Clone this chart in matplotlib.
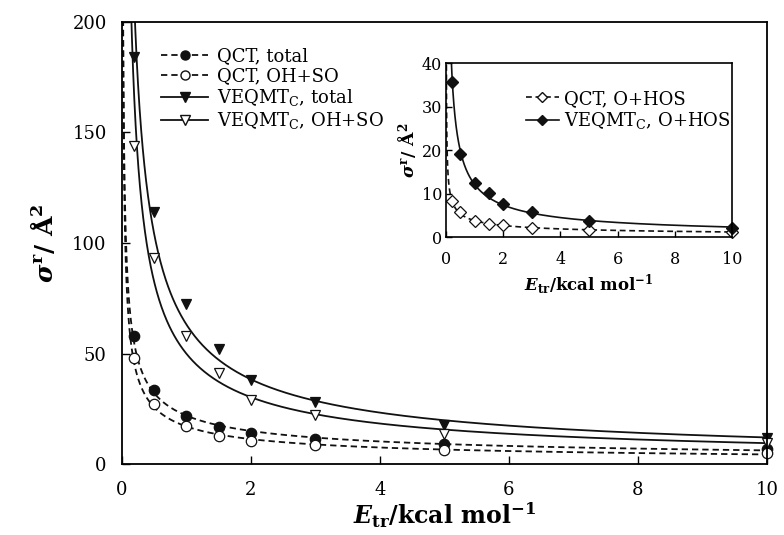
import matplotlib
matplotlib.use("Agg")
import matplotlib.pyplot as plt
from matplotlib.lines import Line2D
import numpy as np

plt.rcParams["font.family"] = "DejaVu Serif"
plt.rcParams["mathtext.fontset"] = "custom"
plt.rcParams["mathtext.rm"] = "DejaVu Serif"
plt.rcParams["mathtext.it"] = "DejaVu Serif:italic:bold"
plt.rcParams["mathtext.bf"] = "DejaVu Serif:bold"

# datos
E = [0.18, 0.5, 1.0, 1.5, 2.0, 3.0, 5.0, 10.0]
qct_total = [58, 33.5, 21.9, 16.9, 13.9, 11.2, 9.0, 6.8]
qct_ohso = [48, 27, 17.2, 12.8, 10.4, 8.6, 6.3, 4.8]
veq_total = [184, 114, 72.4, 52, 38, 28, 17.6, 11.8]
veq_ohso = [144, 93.4, 58, 41, 29, 22, 13.6, 9.5]

E_in = [0.2, 0.5, 1.0, 1.5, 2.0, 3.0, 5.0, 10.0]
qct_ohos = [8.3, 5.9, 3.75, 3.05, 2.8, 2.05, 1.7, 1.3]
veq_ohos = [35.8, 19.1, 12.6, 10.1, 7.6, 5.75, 3.75, 2.2]


def ajuste(x, y, xf):
    # ajuste potencial a*E^-n en escala log-log
    p = np.polyfit(np.log(x), np.log(y), 1)
    return np.exp(np.polyval(p, np.log(xf)))


Ef = np.logspace(np.log10(0.005), 1, 600)
k = "#111111"
dash = (0, (3.5, 2.2))

fig = plt.figure(figsize=(7.84, 5.35), dpi=100)
ax = fig.add_axes([0.1556, 0.1327, 0.8224, 0.8262])

for y, ls, mk, mfc in [(qct_total, dash, "o", k),
                       (qct_ohso, dash, "o", "white"),
                       (veq_total, "-", "v", k),
                       (veq_ohso, "-", "v", "white")]:
    ax.plot(Ef, ajuste(E, y, Ef), color=k, ls=ls, lw=1.3)
    ax.plot(E, y, ls="none", marker=mk, ms=7.5, mfc=mfc, mec=k, mew=0.9,
            clip_on=False)

ax.set_xlim(0, 10)
ax.set_ylim(0, 200)
ax.set_xticks([0, 2, 4, 6, 8, 10])
ax.set_yticks([0, 50, 100, 150, 200])
ax.tick_params(direction="in", length=6, width=1, labelsize=13,
               top=False, right=False)
ax.tick_params(axis="x", pad=12)
ax.tick_params(axis="y", pad=11)
for s in ax.spines.values():
    s.set_linewidth(1.3)
ax.set_xlabel(r"$E_{\mathbf{tr}}$/kcal mol$^{\mathbf{-1}}$", fontsize=17,
              fontweight="bold", labelpad=1)
ax.set_ylabel(r"$\sigma^{\mathbf{r}}$/ Å$^{\mathbf{2}}$", fontsize=18,
              fontweight="bold", labelpad=10)

hs = [Line2D([], [], color=k, ls=dash, lw=1.3, marker="o", ms=6.5, mfc=k, mec=k),
      Line2D([], [], color=k, ls=dash, lw=1.3, marker="o", ms=6.5, mfc="white", mec=k),
      Line2D([], [], color=k, ls="-", lw=1.3, marker="v", ms=6.5, mfc=k, mec=k),
      Line2D([], [], color=k, ls="-", lw=1.3, marker="v", ms=6.5, mfc="white", mec=k)]
ax.legend(hs, ["QCT, total", "QCT, OH+SO", r"VEQMT$_{\rm C}$, total",
               r"VEQMT$_{\rm C}$, OH+SO"],
          loc="upper left", bbox_to_anchor=(0.05, 0.96), frameon=False,
          fontsize=13, handlelength=2.6, handletextpad=0.5,
          labelspacing=0.12, borderaxespad=0)

# inset
ax2 = fig.add_axes([0.569, 0.5564, 0.3648, 0.3252])
ax2.plot(Ef, ajuste(E_in, qct_ohos, Ef), color=k, ls=dash, lw=1.2)
ax2.plot(E_in, qct_ohos, ls="none", marker="D", ms=6, mfc="white", mec=k,
         mew=0.9, clip_on=False)
ax2.plot(Ef, ajuste(E_in, veq_ohos, Ef), color=k, ls="-", lw=1.2)
ax2.plot(E_in, veq_ohos, ls="none", marker="D", ms=6, mfc=k, mec=k,
         clip_on=False)
ax2.set_xlim(0, 10)
ax2.set_ylim(0, 40)
ax2.set_xticks([0, 2, 4, 6, 8, 10])
ax2.set_yticks([0, 10, 20, 30, 40])
ax2.tick_params(direction="in", length=4, width=1, labelsize=11.5)
ax2.tick_params(axis="x", pad=10)
ax2.tick_params(axis="y", pad=3)
for s in ax2.spines.values():
    s.set_linewidth(1.2)
ax2.set_xlabel(r"$E_{\mathbf{tr}}$/kcal mol$^{\mathbf{-1}}$", fontsize=12,
               fontweight="bold", labelpad=3)
ax2.set_ylabel(r"$\sigma^{\mathbf{r}}$/ Å$^{\mathbf{2}}$", fontsize=12.5,
               fontweight="bold", labelpad=2)
hs2 = [Line2D([], [], color=k, ls=dash, lw=1.2, marker="D", ms=5.5, mfc="white", mec=k),
       Line2D([], [], color=k, ls="-", lw=1.2, marker="D", ms=5.5, mfc=k, mec=k)]
ax2.legend(hs2, ["QCT, O+HOS", r"VEQMT$_{\rm C}$, O+HOS"], loc="upper left",
           bbox_to_anchor=(0.255, 0.89), frameon=False, fontsize=13,
           handlelength=1.8, handletextpad=0.3, labelspacing=0.15, borderaxespad=0)

fig.savefig("out.png", dpi=100)
